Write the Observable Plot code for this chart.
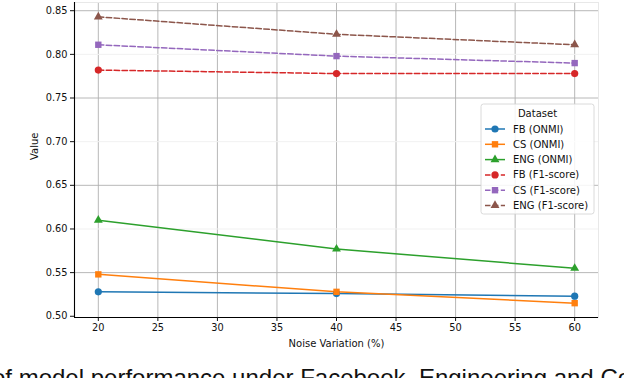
<!DOCTYPE html>
<html>
<head>
<meta charset="utf-8">
<script src="https://cdn.jsdelivr.net/npm/d3@7"></script>
<script src="https://cdn.jsdelivr.net/npm/@observablehq/plot@0.6"></script>
<style>
  html, body { margin: 0; padding: 0; background: white; }
  #wrap { position: relative; width: 624px; height: 378px; overflow: hidden; background: white; }
  #cap { position: absolute; left: -8px; top: 366px; white-space: nowrap;
         font-family: "Liberation Sans", sans-serif; font-size: 24px; line-height: 24px; color: #111; }
</style>
</head>
<body>
<div id="wrap">
  <div id="chart"></div>
  <div id="cap">of model performance under Facebook, Engineering and Computer Science</div>
</div>
<script>
// ---- data ----
const noise = [20, 40, 60];
const fbOnmi  = [0.528, 0.526, 0.523];
const csOnmi  = [0.548, 0.528, 0.515];
const engOnmi = [0.610, 0.577, 0.555];
const fbF1    = [0.782, 0.778, 0.778];
const csF1    = [0.811, 0.798, 0.790];
const engF1   = [0.843, 0.823, 0.811];
const seriesNames = ["FB (ONMI)", "CS (ONMI)", "ENG (ONMI)", "FB (F1-score)", "CS (F1-score)", "ENG (F1-score)"];
const xTicks = [20, 25, 30, 35, 40, 45, 50, 55, 60];
const yTicks = [0.50, 0.55, 0.60, 0.65, 0.70, 0.75, 0.80, 0.85];
const legendTitle = "Dataset";
const xLabel = "Noise Variation (%)";
const yLabel = "Value";

// ---- styling ----
const colors  = ["#1f77b4", "#ff7f0e", "#2ca02c", "#d62728", "#9467bd", "#8c564b"];
const symbols = ["circle", "square", "triangle", "circle", "square", "triangle"];
const dashed  = [false, false, false, true, true, true];
const valuesBySeries = [fbOnmi, csOnmi, engOnmi, fbF1, csF1, engF1];
const symR = {circle: 3.6, square: 3.6, triangle: 3.3};

const series = seriesNames.map((name, k) => ({
  name, color: colors[k], symbol: symbols[k], dashed: dashed[k],
  rows: noise.map((x, i) => ({x, y: valuesBySeries[k][i], name}))
}));

const xDomain = [18, 62];
const yDomain = [0.4986, 0.8594];
const majorY = [0.55, 0.65, 0.75, 0.85];
const faintY = [0.60, 0.70, 0.80];

const W = 624, H = 356;
const marks = [
  Plot.ruleX(xTicks, {stroke: "#b0b0b0", strokeWidth: 0.9}),
  Plot.ruleY(faintY, {stroke: "#f1f1f1", strokeWidth: 1}),
  Plot.ruleY(majorY, {stroke: "#b0b0b0", strokeWidth: 0.9}),
  Plot.frame({stroke: "#e8e8e8"}),
  Plot.ruleX([xDomain[0]], {stroke: "#000", strokeWidth: 1.1}),
  Plot.ruleY([yDomain[0]], {stroke: "#000", strokeWidth: 1.1}),
];
for (const s of series) {
  marks.push(Plot.line(s.rows, {x: "x", y: "y", stroke: s.color, strokeWidth: 1.5,
    strokeDasharray: s.dashed ? "5.5,2.4" : null}));
}
for (const s of series) {
  marks.push(Plot.dot(s.rows, {x: "x", y: "y", symbol: () => s.symbol, fill: s.color, stroke: "none",
    r: symR[s.symbol]}));
}
marks.push(
  Plot.axisX({ticks: xTicks, tickSize: 4, tickPadding: 3, label: null, fontSize: 9.8}),
  Plot.axisY({ticks: yTicks, tickSize: 4, tickPadding: 3, label: null, tickFormat: d3.format(".2f"), fontSize: 9.8}),
  Plot.text([xLabel], {frameAnchor: "bottom", dy: 29, fontSize: 10, fill: "#111"}),
  Plot.text([yLabel], {frameAnchor: "left", dx: -40, rotate: -90, fontSize: 10, fill: "#111"})
);

const chart = Plot.plot({
  width: W, height: H,
  marginLeft: 74, marginRight: 26, marginTop: 2, marginBottom: 39,
  x: {domain: xDomain},
  y: {domain: yDomain},
  symbol: {type: "identity"},
  style: {fontFamily: "'DejaVu Sans', sans-serif", fontSize: "9.8px", color: "#111", background: "white", overflow: "visible"},
  marks
});
document.getElementById("chart").appendChild(chart);

// ---- legend ----
const svg = d3.select(chart);
const lg = svg.append("g").attr("font-family", "'DejaVu Sans', sans-serif").attr("font-size", 10)
  .attr("text-anchor", "start");
const bx = 481, by = 104, bw = 113, bh = 110;
lg.append("rect").attr("x", bx).attr("y", by).attr("width", bw).attr("height", bh)
  .attr("rx", 2.5).attr("fill", "white").attr("fill-opacity", 0.85).attr("stroke", "#d0d0d0").attr("stroke-width", 0.8);
lg.append("text").attr("x", bx + bw / 2).attr("y", by + 9).attr("dy", "0.35em")
  .attr("text-anchor", "middle").attr("fill", "#111").text(legendTitle);
series.forEach((s, i) => {
  const yy = 129 + 15.3 * i;
  lg.append("line").attr("x1", 485).attr("x2", 505).attr("y1", yy).attr("y2", yy)
    .attr("stroke", s.color).attr("stroke-width", 1.5)
    .attr("stroke-dasharray", s.dashed ? "5.5,2.4" : null);
  const sym = {circle: d3.symbolCircle, square: d3.symbolSquare, triangle: d3.symbolTriangle}[s.symbol];
  const r = symR[s.symbol];
  lg.append("path").attr("transform", `translate(495,${yy})`)
    .attr("d", d3.symbol(sym, Math.PI * r * r)()).attr("fill", s.color);
  lg.append("text").attr("x", 513).attr("y", yy).attr("dy", "0.35em")
    .attr("text-anchor", "start").attr("fill", "#111").text(s.name);
});
</script>
</body>
</html>
